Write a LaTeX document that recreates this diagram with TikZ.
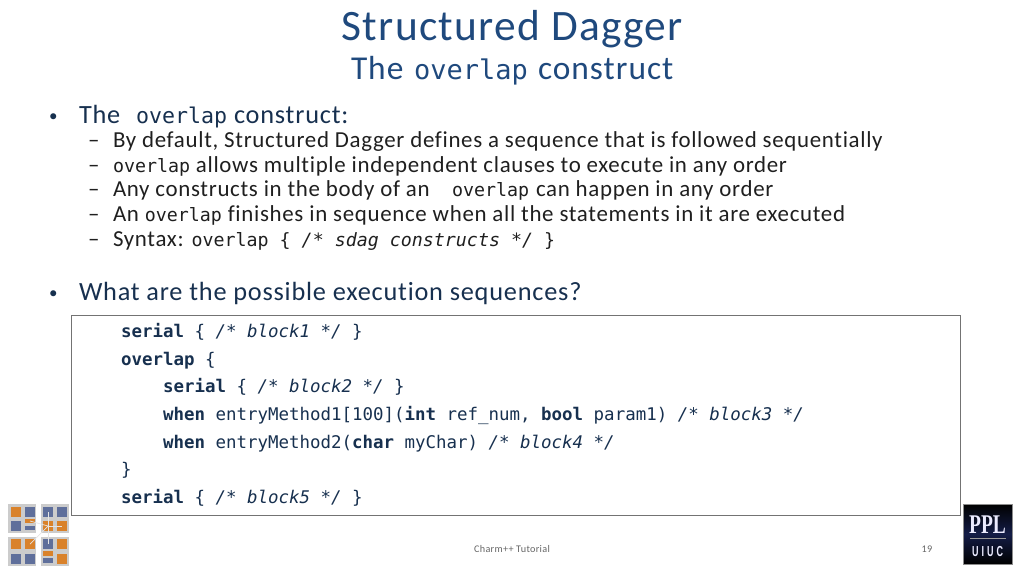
\documentclass[tikz,border=0pt]{standalone}
\usepackage{graphicx}
\usepackage{fontspec}
\setmainfont[LetterSpace=3,Ligatures=NoCommon]{Carlito}
\setmonofont{DejaVu Sans Mono}
\newfontfamily\pplserif{Liberation Serif}
\newfontfamily\pplsans{Liberation Sans}
\usepackage{tikz}
\usetikzlibrary{positioning}
\definecolor{titleblue}{HTML}{1F497D}
\definecolor{inkblue}{HTML}{17304F}
\definecolor{logoorange}{HTML}{D9822B}
\definecolor{logoblue}{HTML}{5F6F9B}
\definecolor{pplnavy}{HTML}{141D47}
\newcommand{\kw}[1]{\textbf{#1}}
\newcommand{\cmt}[1]{\textit{#1}}

\begin{document}
\begin{tikzpicture}[x=1pt,y=-1pt,
  txt/.style={anchor=base west,inner sep=0pt,outer sep=0pt},
  main line/.style={txt,text=inkblue,font=\fontsize{26.3}{30}\selectfont},
  sub line/.style={txt,text=black!88,font=\fontsize{22.9}{26}\selectfont},
  code line/.style={txt,text=inkblue,font=\fontsize{17.45}{20}\ttfamily},
  bullet/.style={txt,text=inkblue,font=\fontsize{17}{20}\selectfont},
  panel/.style={draw=none,fill=black!20,minimum width=28pt,minimum height=29pt,inner sep=0pt},
  cell/.style={draw=none,minimum width=10pt,minimum height=10pt,inner sep=0pt},
  half/.style={draw=none,minimum width=10pt,minimum height=4.5pt,inner sep=0pt},
  link/.style={draw=black!10,line width=0.7pt}]

\useasboundingbox (0,0) rectangle (1024,576);

% headings
\node[txt,text=titleblue,font=\fontsize{43.4}{48}\selectfont] (title) at (341.5,40) {Structured Dagger};
\node[txt,text=titleblue,font=\fontsize{33.4}{36}\selectfont] (subtitle) at (351,79) {The};
\node[txt,text=titleblue,font=\fontsize{27}{30}\ttfamily] (subtitleb) at (414,79) {overlap};
\node[txt,text=titleblue,font=\fontsize{33.4}{36}\selectfont] (subtitlec) at (538,79) {construct};

% bullets
\node[bullet] (bulletA) at (49,121) {•};
\node[main line] (mainA) at (79,123) {The};
\node[main line,font=\fontsize{21.6}{26}\ttfamily] (mainAb) at (136,123) {overlap};
\node[main line] (mainAc) at (234,123) {construct:};
\node[sub line] (dashA) at (88,147) {–};
\node[sub line] (subA) at (113,147) {By default, Structured Dagger defines a sequence that is followed sequentially};
\node[sub line] (dashB) at (88,172) {–};
\node[sub line] (subB) at (113,172) {{\fontsize{18.3}{22}\ttfamily overlap} allows multiple independent clauses to execute in any order};
\node[sub line] (dashC) at (88,196) {–};
\node[sub line] (subC) at (113,196) {Any constructs in the body of an};
\node[sub line,font=\fontsize{18.3}{22}\ttfamily] (subCb) at (452,196) {overlap};
\node[sub line] (subCc) at (536,196) {can happen in any order};
\node[sub line] (dashD) at (88,221) {–};
\node[sub line] (subD) at (113,221) {An {\fontsize{18.3}{22}\ttfamily overlap} finishes in sequence when all the statements in it are executed};
\node[sub line] (dashE) at (88,246) {–};
\node[sub line] (subE) at (113,246) {Syntax: {\fontsize{18.3}{22}\ttfamily overlap \{ \cmt{/* sdag constructs */} \}}};
\node[bullet] (bulletB) at (49,298) {•};
\node[main line] (mainB) at (79,300) {What are the possible execution sequences?};

% code box
\node[draw=black!55,line width=0.8pt,fill=white,minimum width=889pt,minimum height=200pt,inner sep=0pt,anchor=north west] (codebox) at (71,315) {};
\node[code line] (codeA) at (121,337) {\kw{serial} \{ \cmt{/* block1 */} \}};
\node[code line] (codeB) at (121,365) {\kw{overlap} \{};
\node[code line] (codeC) at (163,392.5) {\kw{serial} \{ \cmt{/* block2 */} \}};
\node[code line] (codeD) at (163,420) {\kw{when} entryMethod1[100](\kw{int} ref\_num, \kw{bool} param1) \cmt{/* block3 */}};
\node[code line] (codeE) at (163,448) {\kw{when} entryMethod2(\kw{char} myChar) \cmt{/* block4 */}};
\node[code line] (codeF) at (121,475.5) {\}};
\node[code line] (codeG) at (121,503) {\kw{serial} \{ \cmt{/* block5 */} \}};

% footer
\node[txt,anchor=base,text=black!60,font=\fontsize{10.2}{12}\selectfont] (footer) at (512,552) {Charm++ Tutorial};
\node[txt,anchor=base,text=black!60,font=\fontsize{10.2}{12}\selectfont] (pagenum) at (927,552) {19};

% left logo
\node[panel] (panelA) at (22,518.5) {};
\node[panel] (panelB) at (55,518.5) {};
\node[panel] (panelC) at (22,551) {};
\node[panel] (panelD) at (55,551) {};
\node[cell,fill=logoorange] (a1) at (15.5,511.5) {};
\node[cell,fill=logoblue] (a2) at (30,511.5) {};
\node[cell,fill=logoblue] (a3) at (15.5,526) {};
\node[half,fill=logoorange] (a4) at (30,521) {};
\node[half,fill=logoblue] (a5) at (30,528) {};
\node[cell,fill=logoblue] (b1) at (48,511.5) {};
\node[cell,fill=logoblue] (b2) at (62,511.5) {};
\node[cell,fill=logoorange] (b3) at (48,526) {};
\node[cell,fill=logoorange] (b4) at (62,526) {};
\node[cell,fill=logoorange] (c1) at (15.5,544) {};
\node[cell,fill=logoorange] (c2) at (30,544) {};
\node[cell,fill=logoblue] (c3) at (15.5,558.5) {};
\node[cell,fill=logoblue] (c4) at (30,558.5) {};
\node[cell,fill=logoblue] (d1) at (48,544) {};
\node[cell,fill=logoorange] (d2) at (62,544) {};
\node[half,fill=logoorange] (d3) at (48,553.5) {};
\node[half,fill=logoblue] (d4) at (48,560.5) {};
\node[cell,fill=logoorange] (d5) at (62,558.5) {};
\draw[link] (b3.center) -- (a4.center);
\draw[link] (b3.center) -- (b1.center);
\draw[link] (b3.center) -- (b4.center);
\draw[link] (b3.center) -- (c2.center);
\draw[link] (b3.center) -- (d1.center);

% right logo
\node[draw=black!45,top color=black,bottom color=black,middle color=pplnavy,line width=1pt,minimum width=49pt,minimum height=60pt,inner sep=0pt] (ppl) at (987.5,534) {};
\node[txt,anchor=base,text=white!92!blue,font=\fontsize{27}{29}\pplserif\bfseries] (ppltext) at (987.5,533) {\scalebox{0.72}[1]{PPL}};
\node[draw=none,fill=black!40,minimum width=36pt,minimum height=1.5pt,inner sep=0pt] (pplbar) at (987.5,538.5) {};
\node[txt,anchor=base,text=white!92!blue,font=\fontsize{14.5}{16}\pplsans\bfseries] (uiuc) at (987.5,556) {\scalebox{0.62}[1]{U\,\,I\,\,U\,\,C}};

\end{tikzpicture}
\end{document}
